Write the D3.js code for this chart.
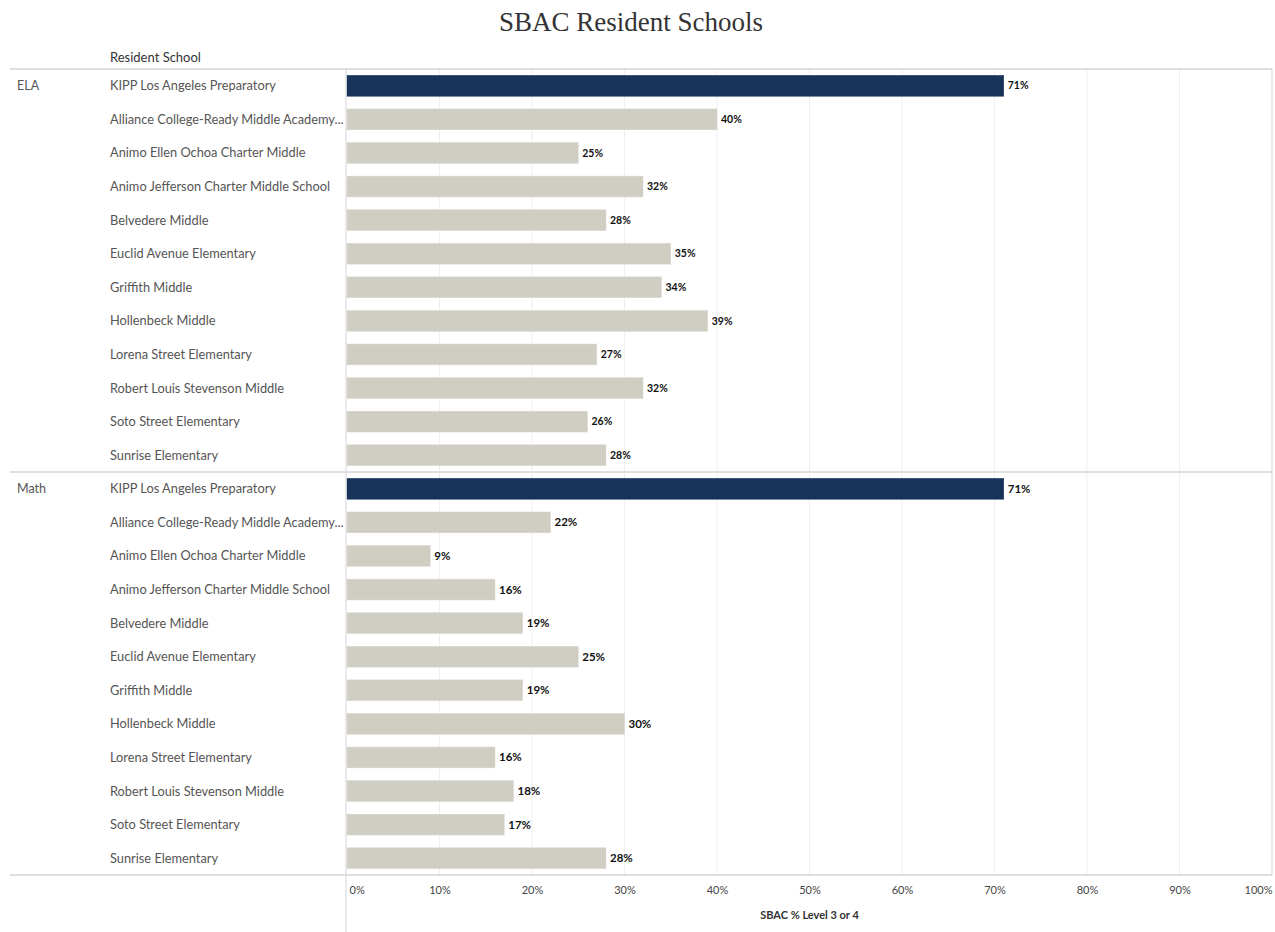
<!DOCTYPE html>
<html>
<head>
<meta charset="utf-8">
<script src="https://cdn.jsdelivr.net/npm/d3@7"></script>
<style>
  body { margin: 0; background: #fff; }
  svg { display: block; }
</style>
</head>
<body>
<div id="chart"></div>
<script>
const schools = [
  "KIPP Los Angeles Preparatory",
  "Alliance College-Ready Middle Academy...",
  "Animo Ellen Ochoa Charter Middle",
  "Animo Jefferson Charter Middle School",
  "Belvedere Middle",
  "Euclid Avenue Elementary",
  "Griffith Middle",
  "Hollenbeck Middle",
  "Lorena Street Elementary",
  "Robert Louis Stevenson Middle",
  "Soto Street Elementary",
  "Sunrise Elementary"
];
const subjects = ["ELA", "Math"];
const elaValues = [71, 40, 25, 32, 28, 35, 34, 39, 27, 32, 26, 28];
const mathValues = [71, 22, 9, 16, 19, 25, 19, 30, 16, 18, 17, 28];
const tickValues = [0, 10, 20, 30, 40, 50, 60, 70, 80, 90, 100];

const width = 1275, height = 932;
const plotLeft = 347, plotRight = 1272;
const panelTop = 69, panelH = 403;
const font = "Lato, 'Open Sans', sans-serif";

const svg = d3.select("#chart").append("svg")
  .attr("width", width).attr("height", height);

svg.append("text")
  .attr("x", 631).attr("y", 31)
  .attr("text-anchor", "middle")
  .style("font-family", "'Liberation Serif', serif")
  .style("font-size", "27px")
  .attr("fill", "#333")
  .text("SBAC Resident Schools");

svg.append("text")
  .attr("x", 110).attr("y", 62)
  .style("font-family", font).style("font-size", "13px")
  .attr("fill", "#333")
  .text("Resident School");

const x = d3.scaleLinear().domain([0, 100]).range([plotLeft, plotRight]);

// gridlines
svg.append("g").selectAll("line")
  .data(tickValues.filter(d => d > 0 && d < 100))
  .join("line")
  .attr("x1", d => x(d)).attr("x2", d => x(d))
  .attr("y1", panelTop).attr("y2", panelTop + 2 * panelH)
  .attr("stroke", "#efefef").attr("stroke-width", 1);

const panels = [
  { name: subjects[0], values: elaValues, valSize: "10.5px" },
  { name: subjects[1], values: mathValues, valSize: "11.5px" }
];

panels.forEach((p, i) => {
  const top = panelTop + i * panelH;
  const y = d3.scaleBand().domain(schools).range([top, top + panelH]).paddingInner(0.38).paddingOuter(0.19);
  const g = svg.append("g");
  const data = schools.map((s, k) => ({ school: s, value: p.values[k] }));

  g.append("text")
    .attr("x", 17).attr("y", y(schools[0]) + y.bandwidth() / 2)
    .attr("dy", "0.35em")
    .style("font-family", font).style("font-size", "12.5px")
    .attr("fill", "#555")
    .text(p.name);

  g.selectAll(".lbl").data(data).join("text")
    .attr("class", "lbl")
    .attr("x", 110).attr("y", d => y(d.school) + y.bandwidth() / 2)
    .attr("dy", "0.35em")
    .style("font-family", font).style("font-size", "12.8px")
    .attr("fill", "#555")
    .text(d => d.school);

  g.selectAll("rect").data(data).join("rect")
    .attr("x", x(0))
    .attr("y", d => y(d.school))
    .attr("width", d => x(d.value) - x(0))
    .attr("height", y.bandwidth())
    .attr("fill", (d, k) => k === 0 ? "#17335a" : "#d0cdc2")
    .attr("stroke", (d, k) => k === 0 ? "#17335a" : "#d9d7cf")
    .attr("stroke-width", 0.5);

  g.selectAll(".val").data(data).join("text")
    .attr("class", "val")
    .attr("x", d => x(d.value) + 4)
    .attr("y", d => y(d.school) + y.bandwidth() / 2)
    .attr("dy", "0.35em")
    .style("font-family", font).style("font-size", p.valSize)
    .style("font-weight", "bold")
    .attr("fill", "#111")
    .text(d => d.value + "%");
});

// frame lines
const hLines = [panelTop, panelTop + panelH, panelTop + 2 * panelH];
svg.append("g").selectAll("line").data(hLines).join("line")
  .attr("x1", 10).attr("x2", plotRight)
  .attr("y1", d => d).attr("y2", d => d)
  .attr("stroke", "#d4d4d4").attr("stroke-width", 1.5);
svg.append("line")
  .attr("x1", plotLeft - 1).attr("x2", plotLeft - 1)
  .attr("y1", panelTop).attr("y2", height)
  .attr("stroke", "#d4d4d4");
svg.append("line")
  .attr("x1", plotRight).attr("x2", plotRight)
  .attr("y1", panelTop).attr("y2", panelTop + 2 * panelH)
  .attr("stroke", "#d4d4d4");

// axis
const axis = svg.append("g")
  .attr("transform", `translate(0,${panelTop + 2 * panelH})`)
  .call(d3.axisBottom(x).tickValues(tickValues).tickSize(0).tickPadding(11).tickFormat(d => d + "%"));
axis.select(".domain").remove();
axis.selectAll("text")
  .style("font-family", font).style("font-size", "11px")
  .attr("fill", "#444")
  .attr("text-anchor", (d, i) => i === 0 ? "start" : (i === tickValues.length - 1 ? "end" : "middle"))
  .attr("dx", (d, i) => i === 0 ? "2" : 0);

svg.append("text")
  .attr("x", x(50)).attr("y", 919)
  .attr("text-anchor", "middle")
  .style("font-family", font).style("font-size", "11px")
  .style("font-weight", "bold")
  .attr("fill", "#333")
  .text("SBAC % Level 3 or 4");
</script>
</body>
</html>
